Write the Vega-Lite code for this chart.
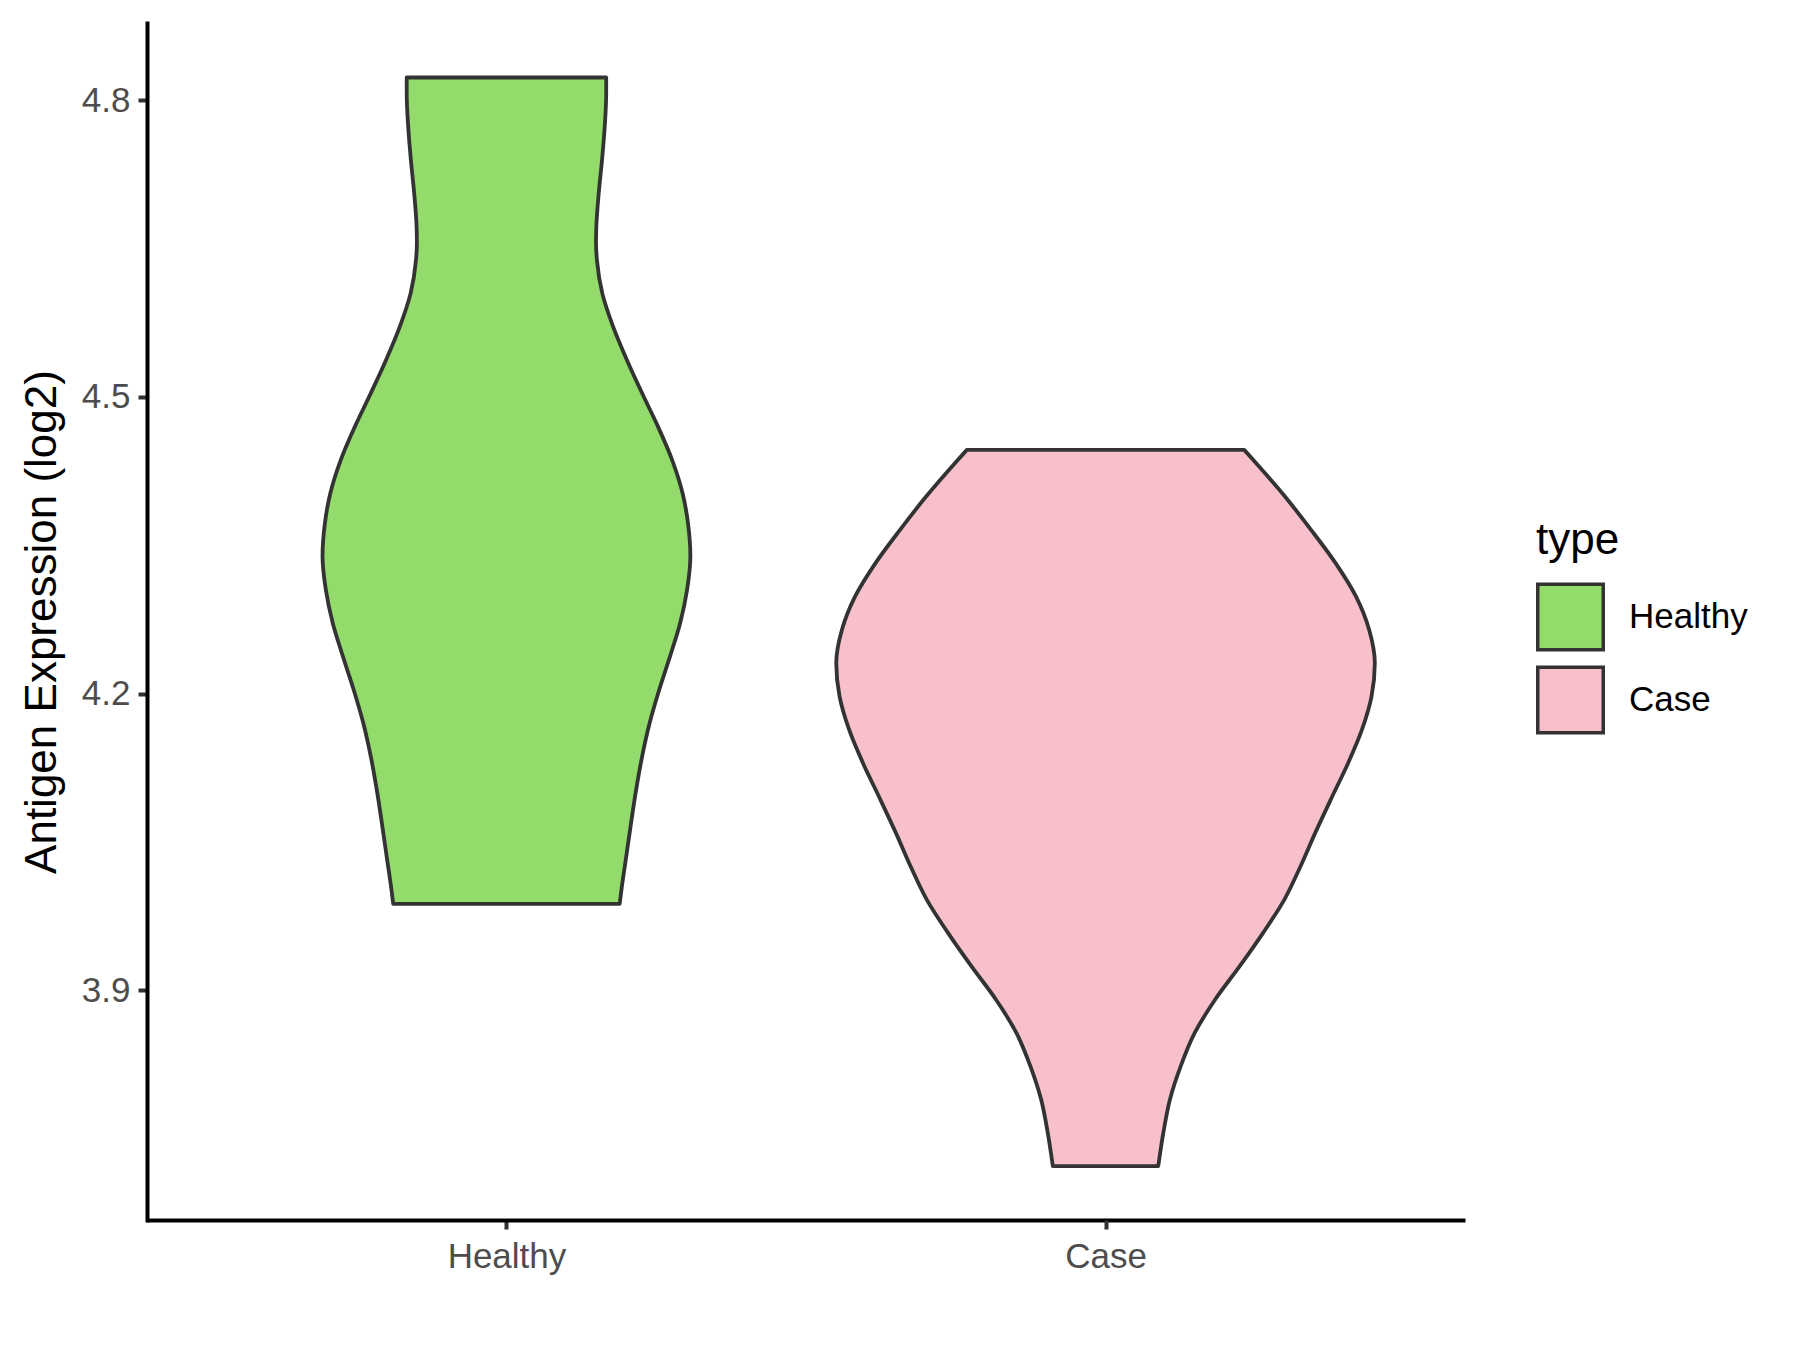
{
  "$schema": "https://vega.github.io/schema/vega-lite/v6.json",
  "padding": {"left": 20, "top": 23, "right": 5, "bottom": 5},
  "background": "white",
  "width": 1318,
  "height": 1197,
  "datasets": {
    "violins": [
      {"type": "Healthy", "value": 4.8229, "width": 0.333},
      {"type": "Healthy", "value": 4.8068, "width": 0.333},
      {"type": "Healthy", "value": 4.773, "width": 0.328},
      {"type": "Healthy", "value": 4.7394, "width": 0.319},
      {"type": "Healthy", "value": 4.7058, "width": 0.308},
      {"type": "Healthy", "value": 4.672, "width": 0.300},
      {"type": "Healthy", "value": 4.6553, "width": 0.299},
      {"type": "Healthy", "value": 4.6384, "width": 0.302},
      {"type": "Healthy", "value": 4.6047, "width": 0.320},
      {"type": "Healthy", "value": 4.5711, "width": 0.356},
      {"type": "Healthy", "value": 4.5374, "width": 0.402},
      {"type": "Healthy", "value": 4.5037, "width": 0.453},
      {"type": "Healthy", "value": 4.47, "width": 0.506},
      {"type": "Healthy", "value": 4.4364, "width": 0.553},
      {"type": "Healthy", "value": 4.4027, "width": 0.588},
      {"type": "Healthy", "value": 4.3725, "width": 0.606},
      {"type": "Healthy", "value": 4.3388, "width": 0.614},
      {"type": "Healthy", "value": 4.3051, "width": 0.603},
      {"type": "Healthy", "value": 4.2714, "width": 0.580},
      {"type": "Healthy", "value": 4.2377, "width": 0.546},
      {"type": "Healthy", "value": 4.204, "width": 0.510},
      {"type": "Healthy", "value": 4.1704, "width": 0.478},
      {"type": "Healthy", "value": 4.1367, "width": 0.453},
      {"type": "Healthy", "value": 4.103, "width": 0.433},
      {"type": "Healthy", "value": 4.0694, "width": 0.416},
      {"type": "Healthy", "value": 4.0357, "width": 0.400},
      {"type": "Healthy", "value": 4.002, "width": 0.384},
      {"type": "Healthy", "value": 3.9876, "width": 0.378},
      {"type": "Case", "value": 4.4465, "width": 0.463},
      {"type": "Case", "value": 4.433, "width": 0.503},
      {"type": "Case", "value": 4.3993, "width": 0.599},
      {"type": "Case", "value": 4.3657, "width": 0.686},
      {"type": "Case", "value": 4.332, "width": 0.768},
      {"type": "Case", "value": 4.2983, "width": 0.836},
      {"type": "Case", "value": 4.2646, "width": 0.880},
      {"type": "Case", "value": 4.231, "width": 0.899},
      {"type": "Case", "value": 4.1973, "width": 0.888},
      {"type": "Case", "value": 4.1636, "width": 0.856},
      {"type": "Case", "value": 4.13, "width": 0.810},
      {"type": "Case", "value": 4.0963, "width": 0.757},
      {"type": "Case", "value": 4.0593, "width": 0.700},
      {"type": "Case", "value": 4.0256, "width": 0.651},
      {"type": "Case", "value": 3.9919, "width": 0.597},
      {"type": "Case", "value": 3.9583, "width": 0.526},
      {"type": "Case", "value": 3.9246, "width": 0.448},
      {"type": "Case", "value": 3.8909, "width": 0.366},
      {"type": "Case", "value": 3.8573, "width": 0.298},
      {"type": "Case", "value": 3.8236, "width": 0.251},
      {"type": "Case", "value": 3.7899, "width": 0.215},
      {"type": "Case", "value": 3.7563, "width": 0.193},
      {"type": "Case", "value": 3.7225, "width": 0.176}
    ]
  },
  "data": {"name": "violins"},
  "encoding": {
    "y": {
      "field": "value", "type": "quantitative",
      "scale": {"domain": [3.668, 4.878], "nice": false, "zero": false},
      "axis": {"values": [3.9, 4.2, 4.5, 4.8], "format": ".1f", "title": "Antigen Expression (log2)", "labelPadding": 8, "titlePadding": 17, "domainCap": "square"}
    },
    "fill": {
      "field": "type", "type": "nominal",
      "scale": {"domain": ["Healthy", "Case"], "range": ["#93DB6B", "#F7C0CB"]},
      "legend": {
        "orient": "none", "legendX": 1389, "legendY": 495.5, "title": "type", "padding": 0,
        "symbolType": "square", "symbolSize": 4290, "symbolStrokeColor": "#333333", "symbolStrokeWidth": 3.5,
        "rowPadding": 2, "labelOffset": 24,
        "encode": {"symbols": {"update": {"stroke": {"value": "#333333"}, "strokeWidth": {"value": 3.5}, "opacity": {"value": 1}}}}
      }
    }
  },
  "layer": [
    {
      "transform": [{"filter": "datum.type === 'Healthy'"}],
      "mark": {"type": "area", "orient": "horizontal", "interpolate": "monotone", "stroke": "#333333", "strokeWidth": 3.8, "strokeJoin": "round"},
      "encoding": {
        "x": {
          "field": "width", "type": "quantitative", "stack": "center",
          "scale": {"domain": [-0.293, 1.907], "nice": false, "zero": false},
          "axis": {"orient": "bottom", "values": [0.307], "labelExpr": "'Healthy'", "title": null, "labelPadding": 10.5, "labelFlush": false, "labelOverlap": false}
        }
      }
    },
    {
      "transform": [{"filter": "datum.type === 'Case'"}],
      "mark": {"type": "area", "orient": "horizontal", "interpolate": "monotone", "stroke": "#333333", "strokeWidth": 3.8, "strokeJoin": "round"},
      "encoding": {
        "x": {
          "field": "width", "type": "quantitative", "stack": "center",
          "scale": {"domain": [-1.1505, 1.0495], "nice": false, "zero": false},
          "axis": {"orient": "bottom", "domain": false, "values": [0.4495], "labelExpr": "'Case'", "title": null, "labelPadding": 10.5, "labelFlush": false, "labelOverlap": false}
        }
      }
    }
  ],
  "resolve": {"scale": {"x": "independent"}, "axis": {"x": "independent"}},
  "config": {
    "font": "Liberation Sans",
    "view": {"stroke": null},
    "axis": {
      "grid": false,
      "domainColor": "black", "domainWidth": 4,
      "tickColor": "#333333", "tickWidth": 4, "tickSize": 9,
      "labelFont": "Liberation Sans", "labelFontSize": 35, "labelColor": "#4D4D4D",
      "titleFont": "Liberation Sans", "titleFontSize": 44, "titleColor": "black", "titleFontWeight": "normal"
    },
    "legend": {
      "titleFont": "Liberation Sans", "titleFontSize": 44, "titleColor": "black", "titleFontWeight": "normal", "titlePadding": 20,
      "labelFont": "Liberation Sans", "labelFontSize": 35, "labelColor": "black"
    }
  }
}
